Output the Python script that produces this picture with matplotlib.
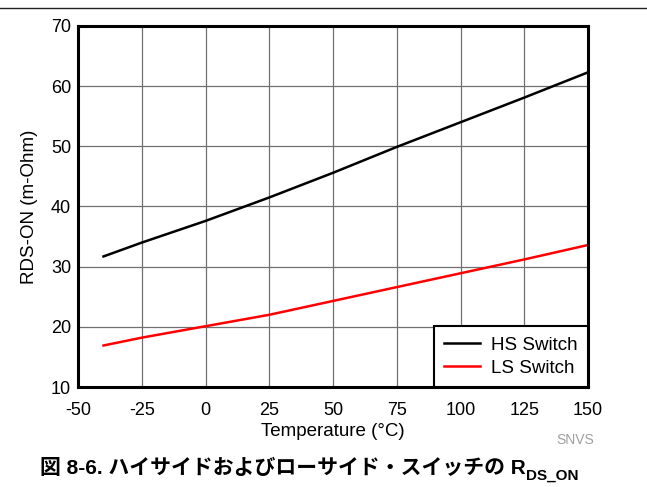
import matplotlib
matplotlib.use("Agg")
import matplotlib.pyplot as plt
from matplotlib.lines import Line2D

plt.rcParams['font.family'] = ['Liberation Sans', 'Noto Sans CJK JP', 'DejaVu Sans']
plt.rcParams['axes.unicode_minus'] = False

temps = [-40, -25, 0, 25, 50, 75, 100, 125, 150]
hs_switch = [31.7, 34.0, 37.6, 41.5, 45.6, 49.9, 54.0, 58.1, 62.3]
ls_switch = [16.9, 18.2, 20.1, 22.0, 24.3, 26.6, 28.9, 31.2, 33.6]

x_ticks = [-50, -25, 0, 25, 50, 75, 100, 125, 150]
y_ticks = [10, 20, 30, 40, 50, 60, 70]

fig = plt.figure(figsize=(6.47, 4.87), dpi=100)
ax = fig.add_axes([78 / 647, 1 - 387 / 487, 510 / 647, 361 / 487])

ax.plot(temps, hs_switch, color='black', lw=1.8, label='HS Switch')
ax.plot(temps, ls_switch, color='#ff0000', lw=1.8, label='LS Switch')

ax.set_xlim(-50, 150)
ax.set_ylim(10, 70)
ax.set_xticks(x_ticks)
ax.set_yticks(y_ticks)
ax.grid(True, color='#707070', lw=0.9)
ax.tick_params(length=0, labelsize=13, colors='black')
ax.tick_params(axis='x', pad=11)
ax.tick_params(axis='y', pad=5)
for s in ax.spines.values():
    s.set_linewidth(2.2)
    s.set_color('black')

ax.set_xlabel('Temperature (°C)', fontsize=13.5, labelpad=3)
ax.set_ylabel('RDS-ON (m-Ohm)', fontsize=13.5, labelpad=9)

leg = ax.legend(loc='lower right', fontsize=13.5, frameon=True, fancybox=False,
                borderpad=0.55, handlelength=1.9, handletextpad=0.6,
                labelspacing=0.32, borderaxespad=0)
leg.get_frame().set_edgecolor('black')
leg.get_frame().set_linewidth(1.5)
leg.get_frame().set_alpha(1)

# top rule
fig.add_artist(Line2D([0, 1], [1 - 7.5 / 487, 1 - 7.5 / 487], color='#222222', lw=1))

fig.text(575 / 647, 1 - 440 / 487, 'SNVS', color='#a0a0a0', fontsize=10,
         ha='center', va='center')

title = fig.text(40 / 647, 1 - 474 / 487, '図 8-6. ハイサイドおよびローサイド・スイッチの R',
                 fontsize=15, fontweight='bold', ha='left', va='baseline')
fig.canvas.draw()
ax.annotate('DS_ON', xy=(1, 0), xycoords=title, xytext=(0.5, -1.5),
            textcoords='offset points', fontsize=11, fontweight='bold',
            ha='left', va='baseline')

fig.savefig('out.png', dpi=100)
